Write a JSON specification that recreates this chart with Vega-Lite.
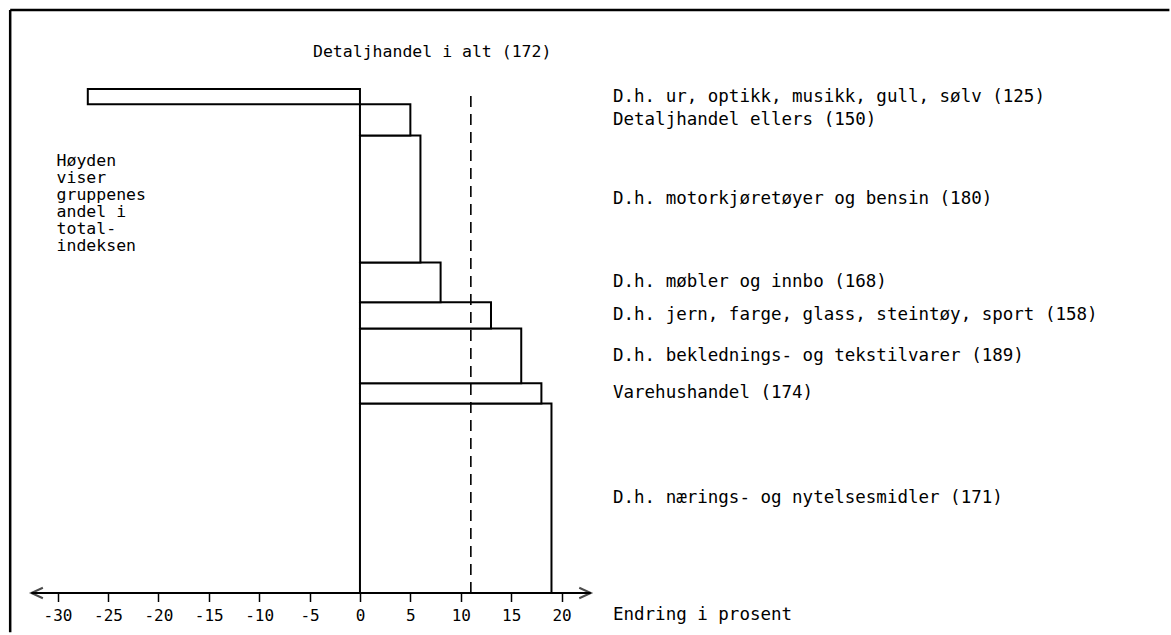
{
  "$schema": "https://vega.github.io/schema/vega-lite/v6.json",
  "autosize": {"type": "fit", "contains": "padding"},
  "width": 1171,
  "height": 635,
  "padding": 0,
  "background": "white",
  "config": {"view": {"stroke": null}, "text": {"font": "DejaVu Sans Mono", "fontSize": 17.5, "color": "black"}},
  "data": {"values": [
    {"gruppe": "D.h. nærings- og nytelsesmidler (171)", "endring": 19, "andel": 37.6, "ordning": 1},
    {"gruppe": "Varehushandel (174)", "endring": 18, "andel": 4.0, "ordning": 2},
    {"gruppe": "D.h. beklednings- og tekstilvarer (189)", "endring": 16, "andel": 10.9, "ordning": 3},
    {"gruppe": "D.h. jern, farge, glass, steintøy, sport (158)", "endring": 13, "andel": 5.2, "ordning": 4},
    {"gruppe": "D.h. møbler og innbo (168)", "endring": 8, "andel": 7.9, "ordning": 5},
    {"gruppe": "D.h. motorkjøretøyer og bensin (180)", "endring": 6, "andel": 25.2, "ordning": 6},
    {"gruppe": "Detaljhandel ellers (150)", "endring": 5, "andel": 6.2, "ordning": 7},
    {"gruppe": "D.h. ur, optikk, musikk, gull, sølv (125)", "endring": -27, "andel": 3.0, "ordning": 8}
  ]},
  "transform": [
    {"stack": "andel", "groupby": [], "sort": [{"field": "ordning", "order": "ascending"}], "as": ["y0", "y1"]},
    {"calculate": "(datum.y0 + datum.y1) / 2", "as": "ymid"}
  ],
  "layer": [
    {
      "mark": {"type": "rect", "fill": "white", "stroke": "black", "strokeWidth": 2},
      "encoding": {
        "x": {"field": "endring", "type": "quantitative", "scale": {"domain": [-35.71, 80.46], "nice": false, "zero": false},
          "axis": {"values": [-30, -25, -20, -15, -10, -5, 0, 5, 10, 15, 20], "domain": false, "grid": false, "offset": -41.5,
            "tickSize": 8, "tickWidth": 1.5, "tickColor": "black", "labelFont": "DejaVu Sans Mono", "labelFontSize": 16,
            "labelColor": "black", "labelPadding": 6, "title": null, "labelFlush": false, "labelOverlap": false,
            "labelExpr": "toString(datum.value)"}},
        "x2": {"datum": 0},
        "y": {"field": "y0", "type": "quantitative", "scale": {"domain": [-8.33, 117.66], "nice": false, "zero": false}, "axis": null},
        "y2": {"field": "y1"}
      }
    },
    {
      "data": {"values": [{"x": 11, "ybunn": 0, "ytopp": 99.4}]},
      "mark": {"type": "rule", "stroke": "black", "strokeWidth": 1.6, "strokeDash": [11, 7]},
      "encoding": {
        "x": {"field": "x", "type": "quantitative", "scale": {"domain": [-35.71, 80.46], "nice": false, "zero": false}},
        "y": {"field": "ybunn", "type": "quantitative", "scale": {"domain": [-8.33, 117.66], "nice": false, "zero": false}},
        "y2": {"field": "ytopp"}
      }
    },
    {
      "data": {"values": [{"fra": -32.6, "til": 22.9, "y": 0}]},
      "mark": {"type": "rule", "stroke": "black", "strokeWidth": 1.8},
      "encoding": {
        "x": {"field": "fra", "type": "quantitative", "scale": {"domain": [-35.71, 80.46], "nice": false, "zero": false}},
        "x2": {"field": "til"},
        "y": {"field": "y", "type": "quantitative", "scale": {"domain": [-8.33, 117.66], "nice": false, "zero": false}}
      }
    },
    {
      "data": {"values": [{"x": -32.6, "y": 0, "retning": "venstre"}, {"x": 22.9, "y": 0, "retning": "hoyre"}]},
      "mark": {"type": "point", "filled": false, "stroke": "black", "strokeWidth": 2, "size": 110},
      "encoding": {
        "x": {"field": "x", "type": "quantitative", "scale": {"domain": [-35.71, 80.46], "nice": false, "zero": false}},
        "y": {"field": "y", "type": "quantitative", "scale": {"domain": [-8.33, 117.66], "nice": false, "zero": false}},
        "shape": {"field": "retning", "type": "nominal", "scale": {"domain": ["venstre", "hoyre"], "range": ["M 2.2 -1 L 0 0 L 2.2 1", "M -2.2 -1 L 0 0 L -2.2 1"]}, "legend": null}
      }
    },
    {
      "mark": {"type": "text", "align": "left", "baseline": "middle"},
      "encoding": {
        "x": {"datum": 25.1, "type": "quantitative", "scale": {"domain": [-35.71, 80.46], "nice": false, "zero": false}},
        "y": {"field": "ymid", "type": "quantitative", "scale": {"domain": [-8.33, 117.66], "nice": false, "zero": false}},
        "text": {"field": "gruppe"}
      }
    },
    {
      "data": {"values": [
        {"x": 25.1, "y": -4.4, "tekst": "Endring i prosent"}
      ]},
      "mark": {"type": "text", "align": "left", "baseline": "middle"},
      "encoding": {
        "x": {"field": "x", "type": "quantitative", "scale": {"domain": [-35.71, 80.46], "nice": false, "zero": false}},
        "y": {"field": "y", "type": "quantitative", "scale": {"domain": [-8.33, 117.66], "nice": false, "zero": false}},
        "text": {"field": "tekst"}
      }
    },
    {
      "data": {"values": [
        {"x": -4.66, "y": 107.3, "tekst": "Detaljhandel i alt (172)"}
      ]},
      "mark": {"type": "text", "align": "left", "baseline": "middle", "fontSize": 16.5},
      "encoding": {
        "x": {"field": "x", "type": "quantitative", "scale": {"domain": [-35.71, 80.46], "nice": false, "zero": false}},
        "y": {"field": "y", "type": "quantitative", "scale": {"domain": [-8.33, 117.66], "nice": false, "zero": false}},
        "text": {"field": "tekst"}
      }
    },
    {
      "data": {"values": [{"x": -30.1, "y": 87.3, "tekst": ["Høyden", "viser", "gruppenes", "andel i", "total-", "indeksen"]}]},
      "mark": {"type": "text", "align": "left", "baseline": "top", "lineHeight": 17, "fontSize": 16.5},
      "encoding": {
        "x": {"field": "x", "type": "quantitative", "scale": {"domain": [-35.71, 80.46], "nice": false, "zero": false}},
        "y": {"field": "y", "type": "quantitative", "scale": {"domain": [-8.33, 117.66], "nice": false, "zero": false}},
        "text": {"field": "tekst"}
      }
    },
    {
      "data": {"values": [{"kant": -34.7, "bunn": -7.8, "topp": 115.67}]},
      "mark": {"type": "rule", "stroke": "black", "strokeWidth": 2.5},
      "encoding": {
        "x": {"field": "kant", "type": "quantitative", "scale": {"domain": [-35.71, 80.46], "nice": false, "zero": false}},
        "y": {"field": "bunn", "type": "quantitative", "scale": {"domain": [-8.33, 117.66], "nice": false, "zero": false}},
        "y2": {"field": "topp"}
      }
    },
    {
      "data": {"values": [{"kant": 115.67, "fra": -34.7, "til": 80.3}]},
      "mark": {"type": "rule", "stroke": "black", "strokeWidth": 2.5},
      "encoding": {
        "x": {"field": "fra", "type": "quantitative", "scale": {"domain": [-35.71, 80.46], "nice": false, "zero": false}},
        "x2": {"field": "til"},
        "y": {"field": "kant", "type": "quantitative", "scale": {"domain": [-8.33, 117.66], "nice": false, "zero": false}}
      }
    }
  ]
}
